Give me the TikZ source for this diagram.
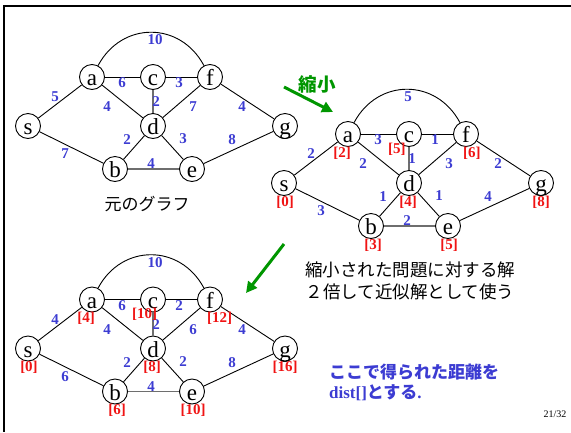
\documentclass[tikz,border=0pt]{standalone}
\usepackage{fontspec}
\setmainfont{Liberation Serif}
\newfontfamily\jp{Noto Sans CJK JP}
\usetikzlibrary{arrows.meta}
\definecolor{wblue}{RGB}{60,60,210}
\definecolor{dred}{RGB}{240,20,20}
\definecolor{agreen}{RGB}{0,150,0}
\definecolor{egray}{RGB}{110,110,110}
\newcommand\gskel[1]{%
  \node[vtx] (#1s) at (28,-126) {s};
  \node[vtx] (#1a) at (92,-77) {a};
  \node[vtx] (#1c) at (153,-77) {c};
  \node[vtx] (#1f) at (210,-77) {f};
  \node[vtx] (#1d) at (153,-126) {d};
  \node[vtx] (#1g) at (285,-126) {g};
  \node[vtx] (#1b) at (115,-169) {b};
  \node[vtx] (#1e) at (192,-169) {e};
  \draw[edge] (#1a) to[out=62,in=118,looseness=1.22] (#1f);
  \draw[edge] (#1s) -- (#1a);
  \draw[edge] (#1s) -- (#1b);
  \draw[edge] (#1a) -- (#1c);
  \draw[edge] (#1c) -- (#1f);
  \draw[edge] (#1a) -- (#1d);
  \draw[gedge] (#1c) -- (#1d);
  \draw[edge] (#1d) -- (#1f);
  \draw[edge] (#1f) -- (#1g);
  \draw[edge] (#1b) -- (#1d);
  \draw[edge] (#1d) -- (#1e);
  \draw[gedge] (#1b) -- (#1e);
  \draw[edge] (#1e) -- (#1g);
}
\newcommand\gdist[9]{% prefix, s a c f d g b e
  \node[dist] (#1ds) at ([shift={(1,-19)}]#1s.center) {[#2]};
  \node[dist] (#1da) at ([shift={(-6,-19)}]#1a.center) {[#3]};
  \node[dist,anchor=west] (#1dc) at ([shift={(-21,-15)}]#1c.center) {[#4]};
  \node[dist,anchor=west] (#1df) at ([shift={(-3,-19)}]#1f.center) {[#5]};
  \node[dist] (#1dd) at ([shift={(-1,-19)}]#1d.center) {[#6]};
  \node[dist] (#1dg) at ([shift={(0,-19)}]#1g.center) {[#7]};
  \node[dist] (#1db) at ([shift={(2,-19)}]#1b.center) {[#8]};
  \node[dist] (#1de) at ([shift={(1,-19)}]#1e.center) {[#9]};
}
\begin{document}
\begin{tikzpicture}[x=1pt,y=1pt,
  vtx/.style={circle,draw,line width=0.9pt,fill=white,minimum size=25pt,inner sep=0pt,
    font=\fontsize{23}{23}\selectfont,text height=17pt,text depth=0pt},
  edge/.style={draw,line width=0.9pt},
  gedge/.style={draw=egray,line width=1.8pt},
  wt/.style={inner sep=0pt,text=wblue,font=\bfseries\fontsize{15}{15}\selectfont},
  dist/.style={inner sep=0pt,text=dred,font=\bfseries\fontsize{15}{15}\selectfont},
  jptext/.style={inner sep=0pt,font=\jp\fontsize{17}{17}\selectfont},
  garrow/.style={draw=agreen,line width=3pt,-{Triangle[length=11pt,width=11pt]}}]
\useasboundingbox (0,0) rectangle (571,-432);
\draw[line width=2pt] (571,-6) -- (4,-6) -- (4,-432);
% graph 1
\begin{scope}
  \gskel{p}
  \foreach \n/\x/\y/\t in {af/155/40/10, ac/122/83/6, cf/179/83/3, sa/55/97/5, ad/107/107/4,
     cd/156/102/2, df/193/107/7, fg/242/107/4, bd/127/140/2, de/183/139/3, eg/232/140/8,
     sb/65/154/7, be/151/164/4}
    \node[wt] (pw\n) at (\x,-\y) {\t};
\end{scope}
% graph 2
\begin{scope}[shift={(256,-57)}]
  \gskel{q}
  \foreach \n/\x/\y/\t in {af/152/40/5, ac/122/83/3, cf/179/83/1, sa/55/97/2, ad/107/107/2,
     cd/156/102/1, df/193/107/3, fg/242/107/2, bd/127/140/1, de/183/139/1, eg/232/140/4,
     sb/65/154/3, be/151/164/2}
    \node[wt] (qw\n) at (\x,-\y) {\t};
  \gdist{q}{0}{2}{5}{6}{4}{8}{3}{5}
\end{scope}
% graph 3
\begin{scope}[shift={(0,-222.5)}]
  \gskel{r}
  \foreach \n/\x/\y/\t in {af/155/40/10, ac/122/83/6, cf/179/83/2, sa/55/97/4, ad/107/107/4,
     cd/156/102/2, df/193/107/6, fg/242/107/4, bd/127/140/2, de/183/139/2, eg/232/140/8,
     sb/65/154/6, be/151/164/4}
    \node[wt] (rw\n) at (\x,-\y) {\t};
  \gdist{r}{0}{4}{10}{12}{8}{16}{6}{10}
\end{scope}
% texts
\node[jptext] (orig) at (147,-204) {元のグラフ};
\node[inner sep=0pt,text=agreen,font=\jp\bfseries\fontsize{18.5}{18.5}\selectfont] (shrink) at (317,-84) {縮小};
\coordinate (ar1s) at (284,-87);
\coordinate (ar1e) at (333,-112);
\draw[garrow] (ar1s) -- (ar1e);
\coordinate (ar2s) at (284,-244);
\coordinate (ar2e) at (246,-293);
\draw[garrow] (ar2s) -- (ar2e);
\node[inner sep=0pt,align=center,font=\jp\fontsize{17.5}{22}\selectfont] (sol) at (410,-281)
  {縮小された問題に対する解\\２倍して近似解として使う};
\node[anchor=west,inner sep=0pt,align=left,text=wblue,font=\bfseries\fontsize{17}{20}\selectfont] (note) at (329,-382)
  {{\jp ここで得られた距離を}\\dist[]{\jp とする}.};
\node[inner sep=0pt,font=\fontsize{10}{10}\selectfont] (pg) at (555,-414) {21/32};
\end{tikzpicture}
\end{document}
